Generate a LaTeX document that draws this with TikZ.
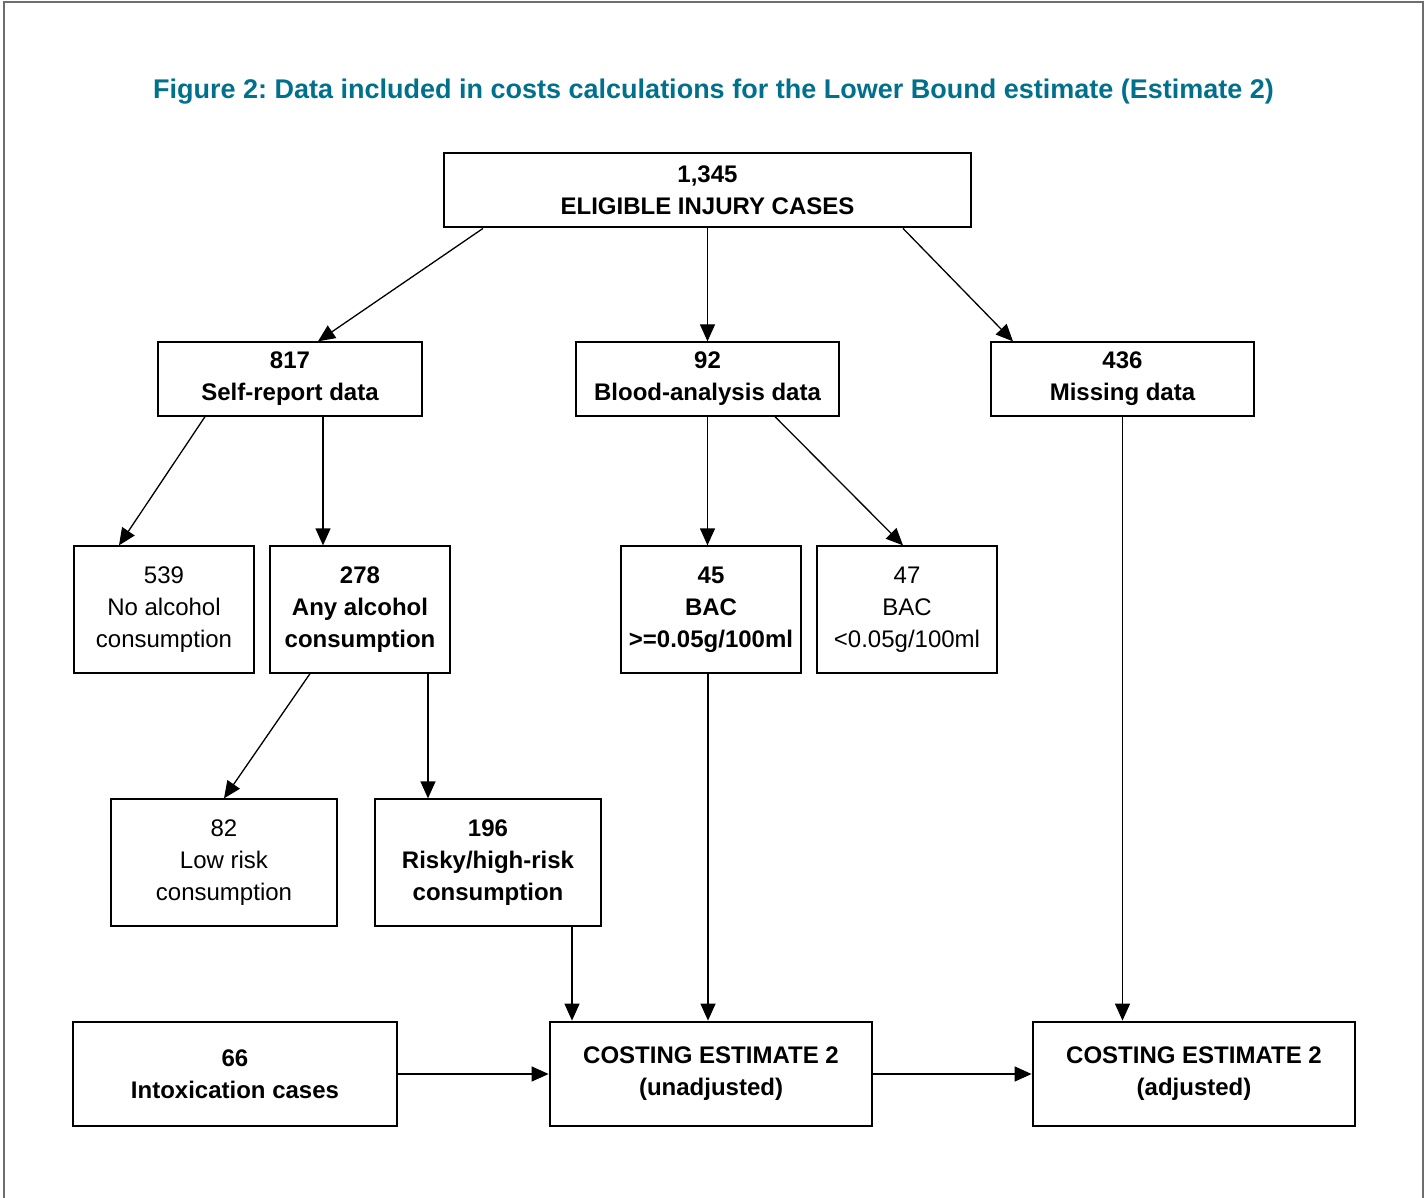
\documentclass[tikz,border=0pt]{standalone}
\usepackage{fontspec}
\setmainfont{Liberation Sans}
\usetikzlibrary{arrows.meta}
\definecolor{titleteal}{RGB}{0,112,140}
\definecolor{framegray}{RGB}{110,110,110}
\tikzset{
  box/.style={draw, line width=1.3pt, align=center, inner sep=0pt,
    font=\fontsize{24}{32}\selectfont},
  boldbox/.style={box, font=\fontsize{24}{32}\selectfont\bfseries},
  heavybox/.style={boldbox, line width=2.8pt},
  arr/.style={-{Triangle[width=15pt,length=17pt]}, line width=1.3pt}
}
\frenchspacing
\begin{document}
\begin{tikzpicture}[x=1pt, y=-1pt]
\useasboundingbox (0,0) rectangle (1428,1198);

% Rahmen
\draw[framegray, line width=1.5pt] (4,1210) -- (4,2) -- (1423,2) -- (1423,1210);

% Titel
\node[anchor=base, text=titleteal, font=\fontsize{27}{30}\selectfont\bfseries] (title) at (713.5,99)
  {Figure 2: Data included in costs calculations for the Lower Bound estimate (Estimate 2)};

% Erste Ebene
\node[heavybox, minimum width=527pt, minimum height=74pt] (total) at (707.5,190) {1,345\\ELIGIBLE INJURY CASES};

% Zweite Ebene
\node[boldbox, minimum width=264pt, minimum height=74pt] (self) at (290,379) {817\\Self-report data};
\node[boldbox, minimum width=263pt, minimum height=74pt] (blood) at (707.5,379) {92\\Blood-analysis data};
\node[boldbox, minimum width=263pt, minimum height=74pt] (missing) at (1122.5,379) {436\\Missing data};

% Dritte Ebene
\node[box, minimum width=180pt, minimum height=127pt] (noalc) at (164,609.5) {539\\No alcohol\\consumption};
\node[boldbox, minimum width=180pt, minimum height=127pt] (anyalc) at (360,609.5) {278\\Any alcohol\\consumption};
\node[boldbox, minimum width=180pt, minimum height=127pt] (bachigh) at (711,609.5) {45\\BAC\\>=0.05g/100ml};
\node[box, minimum width=180pt, minimum height=127pt] (baclow) at (907,609.5) {47\\BAC\\<0.05g/100ml};

% Vierte Ebene
\node[box, minimum width=226pt, minimum height=127pt] (lowrisk) at (224,862.5) {82\\Low risk\\consumption};
\node[boldbox, minimum width=226pt, minimum height=127pt] (highrisk) at (488,862.5) {196\\Risky/high-risk\\consumption};

% Unterste Ebene
\node[boldbox, minimum width=324pt, minimum height=104pt] (intox) at (235,1074) {66\\Intoxication cases};
\node[heavybox, minimum width=322pt, minimum height=104pt] (unadj) at (711,1074) {COSTING ESTIMATE 2\\(unadjusted)};
\node[heavybox, minimum width=322pt, minimum height=104pt] (adj) at (1194,1074) {COSTING ESTIMATE 2\\(adjusted)};

% Pfeile
\draw[arr] ([xshift=-224.5pt]total.south) -- ([xshift=28pt]self.north);
\draw[arr] (total.south) -- (blood.north);
\draw[arr] ([xshift=195.5pt]total.south) -- ([xshift=-109.5pt]missing.north);
\draw[arr] ([xshift=-85pt]self.south) -- ([xshift=-45pt]noalc.north);
\draw[arr] ([xshift=33pt]self.south) -- ([xshift=33pt]self.south |- anyalc.north);
\draw[arr] (blood.south) -- (blood.south |- bachigh.north);
\draw[arr] ([xshift=67.5pt]blood.south) -- ([xshift=-4pt]baclow.north);
\draw[arr] ([xshift=-50pt]anyalc.south) -- (lowrisk.north);
\draw[arr] ([xshift=68pt]anyalc.south) -- ([xshift=68pt]anyalc.south |- highrisk.north);
\draw[arr] ([xshift=84pt]highrisk.south) -- ([xshift=84pt]highrisk.south |- unadj.north);
\draw[arr] ([xshift=-3pt]bachigh.south) -- ([xshift=-3pt]bachigh.south |- unadj.north);
\draw[arr] (missing.south) -- (missing.south |- adj.north);
\draw[arr] (intox.east) -- (unadj.west);
\draw[arr] (unadj.east) -- (adj.west);
\end{tikzpicture}
\end{document}
